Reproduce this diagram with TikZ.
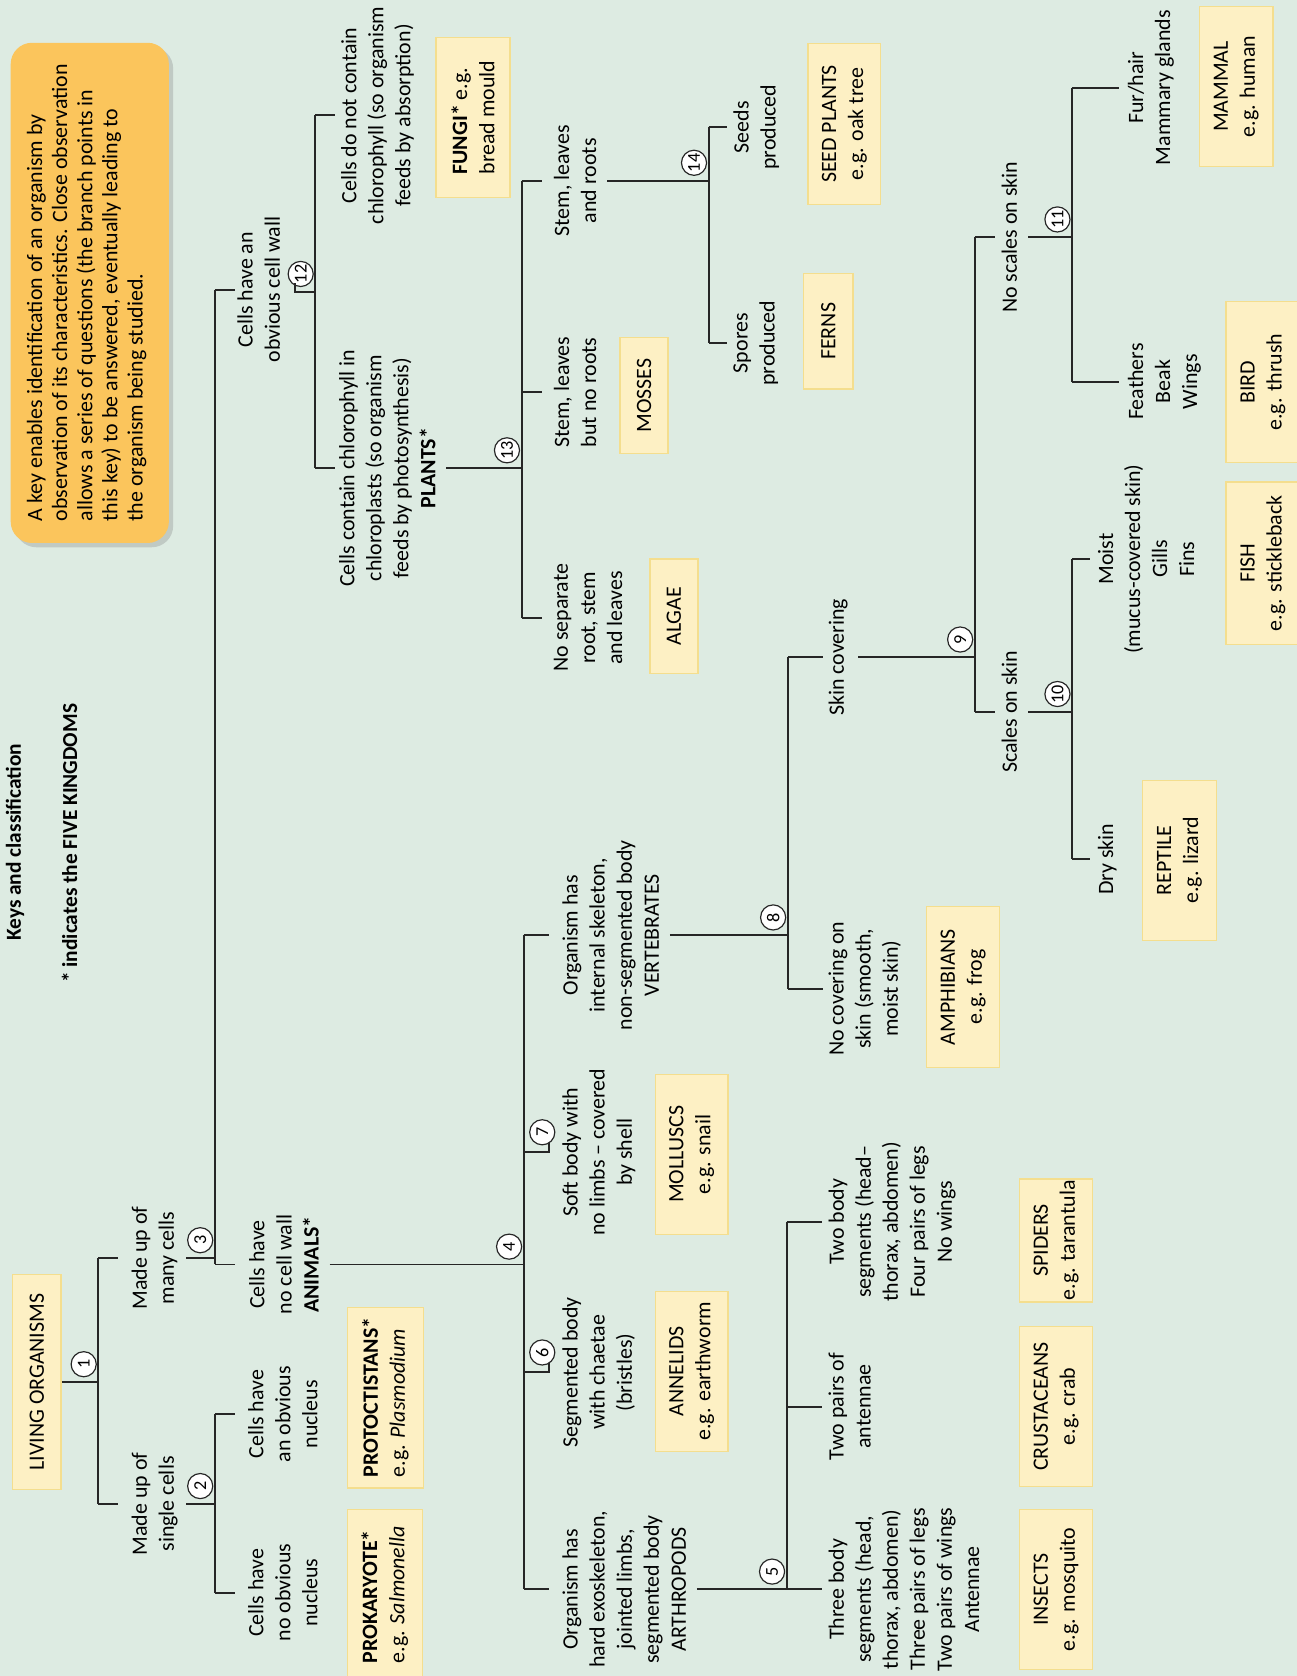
\documentclass[tikz,border=0pt]{standalone}
\usepackage{fontspec}
\setmainfont{Carlito}
\usepackage{xcolor}
\definecolor{BGCOLOR}{RGB}{221,235,226}
\definecolor{BOXCOLOR}{RGB}{253,240,196}
\definecolor{BOXEDGECOLOR}{RGB}{244,222,142}
\definecolor{KEYCOLOR}{RGB}{251,197,92}
\colorlet{TREECOLOR}{black!85}
\usepackage{tikz}
\usetikzlibrary{shadows}
\tikzset{
  text-style/.style = {
    rotate=90, anchor=north, align=center, inner sep=0pt,
    font=\fontsize{20.5}{25.3}\selectfont
  },
  group-style/.style = {
    rectangle, rotate=90, draw=BOXEDGECOLOR, line width=1.2pt,
    fill=BOXCOLOR, align=center, inner sep=0pt,
    font=\fontsize{20.5}{25.3}\selectfont
  },
  num-style/.style = {
    circle, rotate=90, draw=TREECOLOR, fill=white, line width=1.1pt,
    minimum size=23.5pt, inner sep=0pt, anchor=south west,
    font=\fontsize{17}{17}\selectfont
  },
  tree-style/.style = {
    draw=TREECOLOR, line width=1.8pt
  },
  key-style/.style = {
    rectangle, rounded corners=20pt, fill=KEYCOLOR,
    minimum width=148pt, minimum height=468pt,
    drop shadow={shadow xshift=4pt, shadow yshift=-4pt, opacity=0.3}
  },
  key-text-style/.style = {
    rotate=90, align=left, inner sep=0pt,
    font=\fontsize{20.5}{23.5}\selectfont
  },
  title-style/.style = {
    rotate=90, inner sep=0pt,
    font=\bfseries\fontsize{20}{24}\selectfont
  }
}
\def\createFork num:#1 x:#2 top:#3 bottom:#4 in:#5;{
  \coordinate (f#1-top) at (#2,#3);
  \coordinate (f#1-bot) at (#2,#4);
  \coordinate (f#1-in) at (#2,#5);
  \draw[tree-style] (f#1-top) -- (f#1-bot);
  \node[num-style] (n#1) at ([shift={(-5,-8)}]f#1-in) {#1};
}
\def\createLabel name:#1 fork:#2 gap:#3 tick:#4 text:#5;{
  \coordinate (#1-tick) at ([xshift=#4]#2);
  \draw[tree-style] (#2) -- (#1-tick);
  \node[text-style] (#1) at ([xshift=#3]#2) {#5};
}
\def\createGroup name:#1 style:#2 at:#3 size:#4x#5 text:#6;{
  \node[group-style, #2, minimum width=#5pt, minimum height=#4pt] (#1) at (#3) {#6};
}
\begin{document}
\begin{tikzpicture}[x=1pt, y=-1pt]
  \fill[BGCOLOR] (0,0) rectangle (1213,1568);
  \useasboundingbox (0,0) rectangle (1213,1568);

  % heading and key
  \node[title-style] (title) at (14,788) {Keys and classification};
  \node[title-style] (kingdoms) at (65,789) {* indicates the FIVE KINGDOMS};
  \node[key-style] (key) at (84,274) {};
  \node[key-text-style] (keytext) at ([xshift=-3pt]key.center)
    {A key enables identification of an organism by\\
     observation of its characteristics. Close observation\\
     allows a series of questions (the branch points in\\
     this key) to be answered, eventually leading to\\
     the organism being studied.};

  % branch points
  \createFork num:1 x:92 top:1177 bottom:1407 in:1293;
  \createFork num:2 x:201 top:1323 bottom:1490 in:1407;
  \createFork num:3 x:201 top:271 bottom:1183 in:1177;
  \createFork num:4 x:490 top:875 bottom:1487 in:1183;
  \createFork num:5 x:736 top:1143 bottom:1487 in:1487;
  \createFork num:8 x:737 top:615 bottom:925 in:875;
  \createFork num:9 x:912 top:222 bottom:666 in:615;
  \createFork num:10 x:1003 top:523 bottom:804 in:666;
  \createFork num:11 x:1003 top:82 bottom:357 in:222;
  \createFork num:12 x:295 top:108 bottom:438 in:273;
  \createFork num:13 x:488 top:169 bottom:578 in:438;
  \createFork num:14 x:663 top:119 bottom:321 in:169;
  \coordinate (f13-mid) at (488,367);
  \coordinate (f5-mid) at (736,1316);

  % groups
  \createGroup name:living style:{} at:34.5,1293 size:45x201 text:LIVING ORGANISMS;
  \createGroup name:prokaryote style:{align=left} at:360,1492 size:70x160
    text:\textbf{PROKARYOTE*}\\e.g. \textit{Salmonella};
  \createGroup name:protoctistans style:{align=left} at:360.5,1307.5 size:71x169
    text:\textbf{PROTOCTISTANS*}\\e.g. \textit{Plasmodium};
  \createGroup name:fungi style:{align=left} at:442.5,110 size:69x150
    text:\textbf{FUNGI*} e.g.\\bread mould;
  \createGroup name:algae style:{} at:630.5,576.5 size:45x107 text:ALGAE;
  \createGroup name:mosses style:{} at:602.5,370 size:45x108 text:MOSSES;
  \createGroup name:ferns style:{} at:775,310 size:46x108 text:FERNS;
  \createGroup name:seedplants style:{} at:790,116 size:68x150
    text:SEED PLANTS\\e.g. oak tree;
  \createGroup name:annelids style:{} at:647,1283 size:68x150
    text:ANNELIDS\\e.g. earthworm;
  \createGroup name:molluscs style:{} at:647,1080 size:68x150
    text:MOLLUSCS\\e.g. snail;
  \createGroup name:insects style:{} at:988,1487 size:68x150
    text:INSECTS\\e.g. mosquito;
  \createGroup name:crustaceans style:{} at:988,1316 size:68x150
    text:CRUSTACEANS\\e.g. crab;
  \createGroup name:spiders style:{} at:988,1160.5 size:68x115
    text:SPIDERS\\e.g. tarantula;
  \createGroup name:amphibians style:{} at:901,923.5 size:68x151
    text:AMPHIBIANS\\e.g. frog;
  \createGroup name:reptile style:{} at:1103.5,805 size:69x150
    text:REPTILE\\e.g. lizard;
  \createGroup name:fish style:{} at:1181.5,527 size:69x152
    text:FISH\\e.g. stickleback;
  \createGroup name:bird style:{} at:1181.5,357.5 size:69x151
    text:BIRD\\e.g. thrush;
  \createGroup name:mammal style:{} at:1156.5,81 size:69x150
    text:MAMMAL\\e.g. human;

  % questions
  \createLabel name:many fork:f1-top gap:31 tick:18 text:Made up of\\many cells;
  \createLabel name:single fork:f1-bot gap:31 tick:18 text:Made up of\\single cells;
  \createLabel name:nucleus fork:f2-top gap:31 tick:19
    text:Cells have\\an obvious\\nucleus;
  \createLabel name:nonucleus fork:f2-bot gap:31 tick:19
    text:Cells have\\no obvious\\nucleus;
  \createLabel name:wall fork:f3-top gap:21 tick:19
    text:Cells have an\\obvious cell wall;
  \createLabel name:animals fork:f3-bot gap:32 tick:19
    text:Cells have\\no cell wall\\\textbf{ANIMALS*};
  \createLabel name:nochloro fork:f12-top gap:24 tick:18
    text:Cells do not contain\\chlorophyll (so organism\\feeds by absorption);
  \createLabel name:plants fork:f12-bot gap:22 tick:18
    text:Cells contain chlorophyll in\\chloroplasts (so organism\\feeds by photosynthesis)\\\textbf{PLANTS*};
  \createLabel name:roots fork:f13-top gap:30 tick:19
    text:Stem, leaves\\and roots;
  \createLabel name:noroots fork:f13-mid gap:30 tick:19
    text:Stem, leaves\\but no roots;
  \createLabel name:noparts fork:f13-bot gap:30 tick:19
    text:No separate\\root, stem\\and leaves;
  \createLabel name:seeds fork:f14-top gap:23 tick:17
    text:Seeds\\produced;
  \createLabel name:spores fork:f14-bot gap:23 tick:17
    text:Spores\\produced;
  \createLabel name:vertebrates fork:f4-top gap:36 tick:24
    text:Organism has\\internal skeleton,\\non-segmented body\\VERTEBRATES;
  \createLabel name:arthropods fork:f4-bot gap:36 tick:24
    text:Organism has\\hard exoskeleton,\\jointed limbs,\\segmented body\\ARTHROPODS;
  \createLabel name:threebody fork:f5-bot gap:39 tick:33
    text:Three body\\segments (head,\\thorax, abdomen)\\Three pairs of legs\\Two pairs of wings\\Antennae;
  \createLabel name:twopairs fork:f5-mid gap:39 tick:33
    text:Two pairs of\\antennae;
  \createLabel name:twobody fork:f5-top gap:39 tick:33
    text:Two body\\segments (head--\\thorax, abdomen)\\Four pairs of legs\\No wings;
  \createLabel name:skin fork:f8-top gap:38 tick:33 text:Skin covering;
  \createLabel name:noskin fork:f8-bot gap:38 tick:33
    text:No covering on\\skin (smooth,\\moist skin);
  \createLabel name:noscales fork:f9-top gap:25 tick:19 text:No scales on skin;
  \createLabel name:scales fork:f9-bot gap:25 tick:19 text:Scales on skin;
  \createLabel name:moist fork:f10-top gap:24 tick:17
    text:Moist\\(mucus-covered skin)\\Gills\\Fins;
  \createLabel name:dry fork:f10-bot gap:24 tick:17 text:Dry skin;
  \createLabel name:fur fork:f11-top gap:52 tick:44
    text:Fur/hair\\Mammary glands;
  \createLabel name:feathers fork:f11-bot gap:52 tick:44
    text:Feathers\\Beak\\Wings;

  % single questions 6 and 7
  \coordinate (f4-six) at (490,1284);
  \coordinate (six-bar) at (514,1284);
  \coordinate (six-top) at (514,1274);
  \draw[tree-style] (f4-six) -- (six-bar) -- (six-top);
  \node[num-style] (n6) at ([shift={(2,-10)}]six-bar) {6};
  \node[text-style] (chaetae) at ([xshift=36]f4-six)
    {Segmented body\\with chaetae\\(bristles)};
  \coordinate (f4-seven) at (490,1078);
  \coordinate (seven-bar) at (514,1078);
  \coordinate (seven-top) at (514,1068);
  \draw[tree-style] (f4-seven) -- (seven-bar) -- (seven-top);
  \node[num-style] (n7) at ([shift={(2,-10)}]seven-bar) {7};
  \node[text-style] (shell) at ([xshift=36]f4-seven)
    {Soft body with\\no limbs -- covered\\by shell};

  % from each answer to the next branch point
  \coordinate (wall-bar) at (276,273);
  \coordinate (wall-top) at (276,265);
  \draw[tree-style] (wall-top) -- (wall-bar) -- (f12-in);
  \draw[tree-style] (living.south) -- (f1-in);
  \draw[tree-style, shorten <=8pt] (single.south) -- (f2-in);
  \draw[tree-style, shorten <=8pt] (many.south) -- (f3-in);
  \draw[tree-style, shorten <=10pt] (animals.south) -- (f4-in);
  \draw[tree-style, shorten <=10pt] (plants.south) -- (f13-in);
  \draw[tree-style, shorten <=10pt] (roots.south) -- (f14-in);
  \draw[tree-style, shorten <=10pt] (vertebrates.south) -- (f8-in);
  \draw[tree-style, shorten <=10pt] (arthropods.south) -- (f5-in);
  \draw[tree-style, shorten <=10pt] (skin.south) -- (f9-in);
  \draw[tree-style, shorten <=10pt] (scales.south) -- (f10-in);
  \draw[tree-style, shorten <=10pt] (noscales.south) -- (f11-in);
\end{tikzpicture}
\end{document}
